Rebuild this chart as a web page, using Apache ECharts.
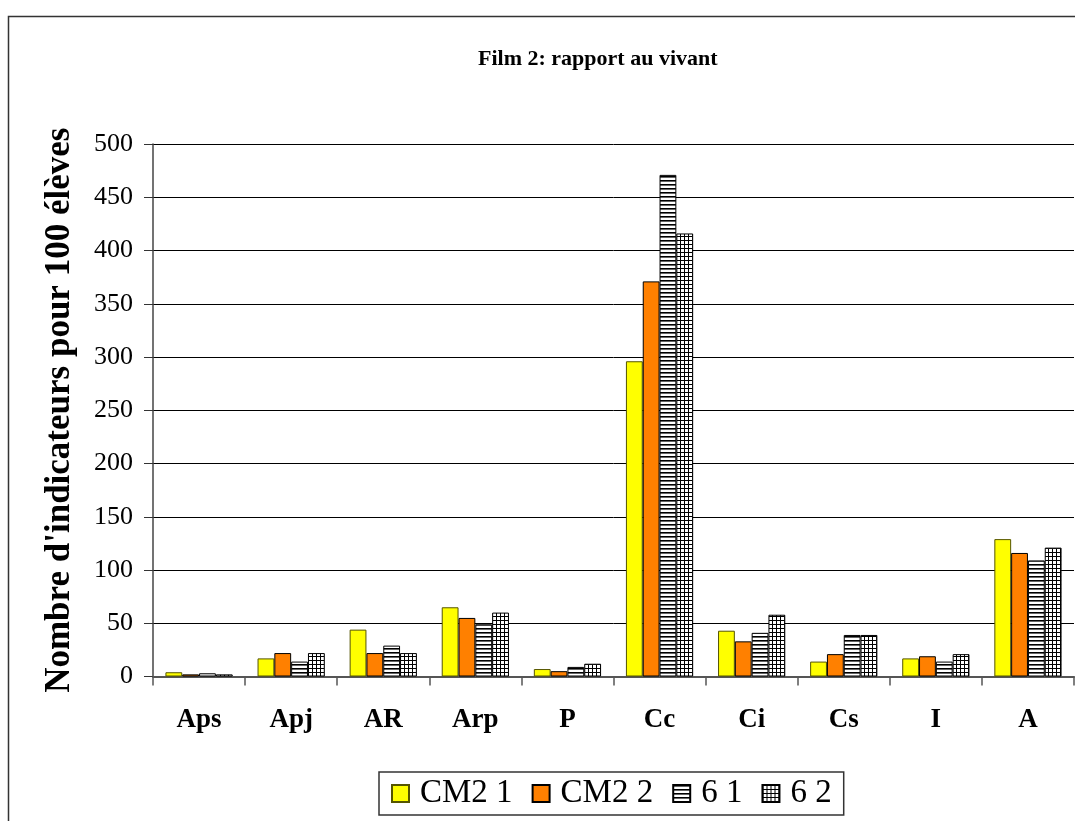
<!DOCTYPE html>
<html><head><meta charset="utf-8">
<script src="https://cdn.jsdelivr.net/npm/echarts@6/dist/echarts.min.js"></script>
<style>html,body{margin:0;padding:0;background:#fff}#c{width:1075px;height:821px}</style>
</head><body><div id="c"></div>
<script>
var categories = ['Aps','Apj','AR','Arp','P','Cc','Ci','Cs','I','A'];
var seriesNames = ['CM2 1','CM2 2','6 1','6 2'];
var cm2_1 = [4, 17, 44, 65, 7, 296, 43, 14, 17, 129];
var cm2_2 = [2, 22, 22, 55, 5, 371, 33, 21, 19, 116];
var six_1 = [3, 14, 29, 49, 9, 471, 41, 39, 14, 109];
var six_2 = [2, 22, 22, 60, 12, 416, 58, 39, 21, 121];
var yTicks = [0,50,100,150,200,250,300,350,400,450,500];

function makeStripe(){
  var c=document.createElement('canvas');c.width=4;c.height=4;
  var g=c.getContext('2d');g.fillStyle='#fff';g.fillRect(0,0,4,4);
  g.fillStyle='#000';g.fillRect(0,0,4,1.6);return c;
}
function makeGrid(){
  var c=document.createElement('canvas');c.width=4;c.height=4;
  var g=c.getContext('2d');g.fillStyle='#fff';g.fillRect(0,0,4,4);
  g.fillStyle='#000';g.fillRect(0,0,4,1);g.fillRect(0,0,1,4);return c;
}
var stripe={image:makeStripe(),repeat:'repeat'};
var gridP={image:makeGrid(),repeat:'repeat'};

var serif='"Liberation Serif","DejaVu Serif",serif';
var chart=echarts.init(document.getElementById('c'),null,{renderer:'canvas'});
function bar(name,data,color,border){
  return {name:name,type:'bar',data:data,barGap:'0%',barCategoryGap:'27%',
    itemStyle:{color:color,borderColor:border,borderWidth:1},emphasis:{disabled:true}};
}
chart.setOption({
  animation:false,
  backgroundColor:'#fff',
  graphic:[{type:'rect',shape:{x:8.5,y:16.5,width:1080,height:820},style:{fill:null,stroke:'#333',lineWidth:1.5},silent:true}],
  title:{text:'Film 2: rapport au vivant',left:473,top:43,
    textStyle:{fontFamily:serif,fontSize:22,fontWeight:'bold',color:'#000'}},
  legend:{data:[
      {name:seriesNames[0]},{name:seriesNames[1]},
      {name:seriesNames[2],itemStyle:{borderColor:'#000'}},
      {name:seriesNames[3]}],
    left:379,top:772,padding:[5,12,5,12],itemWidth:17,itemHeight:17,itemGap:19,
    borderColor:'#333',borderWidth:1.5,icon:'rect',
    textStyle:{fontFamily:serif,fontSize:33,color:'#000',padding:[0,0,0,6]}},
  grid:{left:153,right:1,top:144,bottom:144.5,containLabel:false},
  xAxis:{type:'category',data:categories,
    axisLine:{lineStyle:{color:'#555',width:2}},
    axisTick:{show:true,length:9,lineStyle:{color:'#555',width:1.5}},
    axisLabel:{fontFamily:serif,fontSize:27,fontWeight:'bold',color:'#000',margin:30}},
  yAxis:{type:'value',min:0,max:500,interval:50,
    name:"Nombre d'indicateurs pour 100 élèves",nameLocation:'middle',nameGap:76,nameRotate:90,
    nameTextStyle:{fontFamily:serif,fontSize:35,fontWeight:'bold',color:'#000'},
    axisLine:{show:true,lineStyle:{color:'#444',width:1.5}},
    axisTick:{show:true,length:9,lineStyle:{color:'#333'}},
    axisLabel:{fontFamily:serif,fontSize:26,color:'#000',margin:20,
      formatter:function(v){return yTicks.indexOf(v)>=0?String(v):'';}},
    splitLine:{lineStyle:{color:'#000',width:1}}},
  series:[bar(seriesNames[0],cm2_1,'#FFFF00','#555500'),
          bar(seriesNames[1],cm2_2,'#FF8000','#000'),
          bar(seriesNames[2],six_1,stripe,'#000'),
          bar(seriesNames[3],six_2,gridP,'#000')]
});
</script></body></html>
